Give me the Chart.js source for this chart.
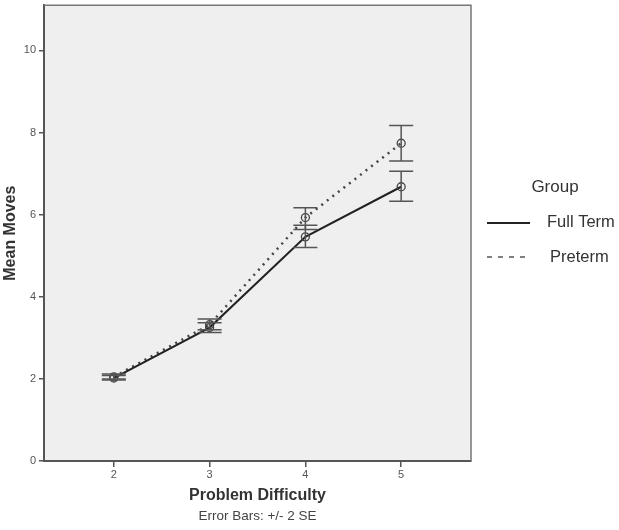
<!DOCTYPE html>
<html><head><meta charset="utf-8">
<script src="https://cdn.jsdelivr.net/npm/chart.js@4"></script>
<style>html,body{margin:0;padding:0;background:#fff}#wrap{width:619px;height:530px;position:relative}</style>
</head><body><div id="wrap"><canvas id="c" width="619" height="530"></canvas></div>
<script>
const difficulty = [2, 3, 4, 5];
const fullTermMean = [2.02, 3.25, 5.46, 6.68];
const fullTermLow  = [1.97, 3.13, 5.20, 6.33];
const fullTermHigh = [2.08, 3.37, 5.74, 7.06];
const pretermMean  = [2.05, 3.32, 5.93, 7.74];
const pretermLow   = [2.00, 3.20, 5.64, 7.31];
const pretermHigh  = [2.12, 3.46, 6.17, 8.17];
const yTicks = [0, 2, 4, 6, 8, 10];
const xTicks = [2, 3, 4, 5];
const seriesNames = ['Full Term', 'Preterm'];
const legendTitle = 'Group';
const footNote = 'Error Bars: +/- 2 SE';

const FONT = "'Liberation Sans', Arial, sans-serif";
const lows = [fullTermLow, pretermLow];
const highs = [fullTermHigh, pretermHigh];

const bgPlugin = {
  id: 'bg',
  beforeDraw(chart) {
    const {ctx, chartArea: a} = chart;
    ctx.save();
    ctx.fillStyle = '#efefef';
    ctx.fillRect(a.left, a.top, a.right - a.left, a.bottom - a.top);
    ctx.restore();
  },
  afterDraw(chart) {
    const {ctx, chartArea: a} = chart;
    ctx.save();
    ctx.strokeStyle = '#777';
    ctx.lineWidth = 1.5;
    ctx.beginPath();
    ctx.moveTo(a.left, a.top); ctx.lineTo(a.right, a.top); ctx.lineTo(a.right, a.bottom);
    ctx.stroke();
    // footnote
    ctx.fillStyle = '#444';
    ctx.font = '13.5px ' + FONT;
    ctx.textAlign = 'center';
    ctx.textBaseline = 'middle';
    ctx.fillText(footNote, (a.left + a.right) / 2, 516);
    // legend
    ctx.fillStyle = '#333';
    ctx.font = '17px ' + FONT;
    ctx.fillText(legendTitle, 555, 187);
    ctx.textAlign = 'left';
    ctx.font = '16.5px ' + FONT;
    ctx.fillText(seriesNames[0], 547, 222);
    ctx.fillText(seriesNames[1], 550, 257);
    ctx.strokeStyle = '#222'; ctx.lineWidth = 2;
    ctx.beginPath(); ctx.moveTo(487, 223); ctx.lineTo(530, 223); ctx.stroke();
    ctx.strokeStyle = '#555'; ctx.lineWidth = 1.5; ctx.setLineDash([5, 6]);
    ctx.beginPath(); ctx.moveTo(487, 257); ctx.lineTo(531, 257); ctx.stroke();
    ctx.restore();
  }
};

const errPlugin = {
  id: 'errbars',
  afterDatasetsDraw(chart) {
    const {ctx, scales: {x, y}} = chart;
    ctx.save();
    ctx.strokeStyle = '#555';
    ctx.lineWidth = 1.5;
    lows.forEach((lo, s) => {
      lo.forEach((v, i) => {
        const px = x.getPixelForValue(difficulty[i]);
        const y1 = y.getPixelForValue(v);
        const y2 = y.getPixelForValue(highs[s][i]);
        ctx.beginPath();
        ctx.moveTo(px, y1); ctx.lineTo(px, y2);
        ctx.moveTo(px - 12, y1); ctx.lineTo(px + 12, y1);
        ctx.moveTo(px - 12, y2); ctx.lineTo(px + 12, y2);
        ctx.stroke();
      });
    });
    ctx.restore();
  }
};

new Chart(document.getElementById('c'), {
  type: 'line',
  data: {
    datasets: [
      {
        label: seriesNames[0],
        data: difficulty.map((d, i) => ({x: d, y: fullTermMean[i]})),
        borderColor: '#222', borderWidth: 2,
        pointRadius: 4, pointBorderColor: '#444', pointBorderWidth: 1.3,
        pointBackgroundColor: 'rgba(0,0,0,0)', tension: 0
      },
      {
        label: seriesNames[1],
        data: difficulty.map((d, i) => ({x: d, y: pretermMean[i]})),
        borderColor: '#444', borderWidth: 2.5, borderDash: [2, 5],
        pointRadius: 4, pointBorderColor: '#444', pointBorderWidth: 1.3,
        pointBackgroundColor: 'rgba(0,0,0,0)', tension: 0
      }
    ]
  },
  options: {
    responsive: false, animation: false, devicePixelRatio: 1,
    layout: {padding: {top: 5, right: 148, left: 0, bottom: 0}},
    plugins: {legend: {display: false}, tooltip: {enabled: false}},
    scales: {
      x: {
        type: 'linear', min: 1.271, max: 5.729,
        afterBuildTicks: s => { s.ticks = xTicks.map(v => ({value: v})); },
        afterFit: s => { s.height = 69; s.paddingLeft = 0; s.paddingRight = 0; },
        ticks: {color: '#555', font: {size: 11, family: FONT}, padding: 1},
        grid: {drawOnChartArea: false, tickLength: 6, color: '#555', lineWidth: 1.5},
        border: {display: true, color: '#555', width: 2},
        title: {display: true, text: 'Problem Difficulty', color: '#333',
                font: {size: 16, weight: 'bold', family: FONT}, padding: {top: 0, bottom: 25}}
      },
      y: {
        min: 0, max: 11.1,
        afterBuildTicks: s => { s.ticks = yTicks.map(v => ({value: v})); },
        afterFit: s => { s.width = 44; s.paddingTop = 0; s.paddingBottom = 0; },
        ticks: {color: '#555', font: {size: 11, family: FONT}, padding: 3},
        grid: {drawOnChartArea: false, tickLength: 5, color: '#555', lineWidth: 1.5},
        border: {display: true, color: '#555', width: 2},
        title: {display: true, text: 'Mean Moves', color: '#333',
                font: {size: 16, weight: 'bold', family: FONT}, padding: {top: 1, bottom: 0}}
      }
    }
  },
  plugins: [bgPlugin, errPlugin]
});
</script></body></html>
